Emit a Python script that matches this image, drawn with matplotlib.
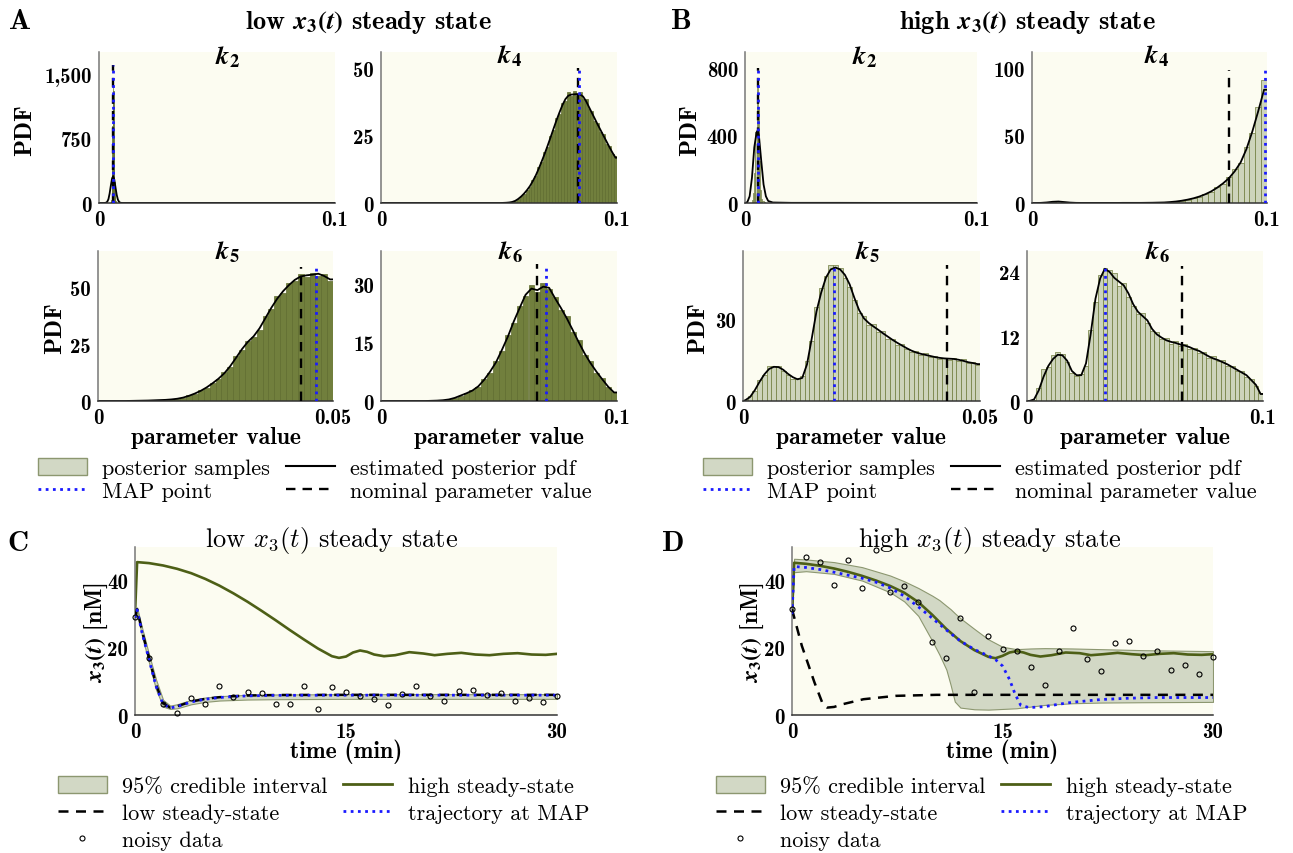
import matplotlib.pyplot as plt
from matplotlib.patches import Patch
from matplotlib.lines import Line2D

plt.rcParams['mathtext.fontset'] = 'cm'
plt.rcParams['font.family'] = 'cmb10'
plt.rcParams['axes.unicode_minus'] = False

# ---------------- histogram data (posterior samples + estimated pdf) ----------------
# panel A (low steady state)
A_k2_bin0, A_k2_step = 0.0051, 0.0002
A_k2_hist = [30, 120, 400, 900, 1450, 1300, 700, 250, 80, 20]
A_k2_pdf_x = [0, 0.002, 0.0025, 0.003, 0.0035, 0.004, 0.0045, 0.005, 0.0055, 0.006, 0.0065, 0.007, 0.0075, 0.008, 0.0085, 0.009, 0.0095, 0.01, 0.1]
A_k2_pdf_y = [0, 0, 1, 4, 15, 45, 110, 200, 280, 314, 270, 180, 95, 40, 13, 4, 1, 0, 0]

A_k4_bin0, A_k4_step = 0.05, 0.00125
A_k4_hist = [0, 0, 0.1, 0.2, 0.3, 0.9, 1.4, 2.6, 3.3, 5.0, 6.1, 8.6, 10.0, 13.3, 15.1, 18.9, 20.8, 25.0, 27.1, 31.4,
             33.0, 37.1, 38.0, 41.2, 39.6, 41.5, 39.8, 41.0, 38.7, 38.4, 34.9, 34.0, 30.5, 29.6, 26.2, 25.5, 22.0, 21.3, 18.0, 17.5]
A_k4_pdf = [0, 0.05, 0.1, 0.2, 0.4, 0.8, 1.5, 2.4, 3.5, 4.8, 6.3, 8.2, 10.3, 12.8, 15.5, 18.3, 21.3, 24.4, 27.6, 30.7,
            33.6, 36.3, 38.5, 39.8, 40.2, 40.3, 40.4, 40.2, 39.5, 37.8, 35.6, 33.4, 31.2, 29.0, 26.9, 24.8, 22.7, 20.6, 18.6, 16.8]

A_k5_bin0, A_k5_step = 0.0, 0.00125
A_k5_hist = [0, 0, 0, 0, 0, 0.05, 0.1, 0.2, 0.2, 0.3, 0.4, 0.6, 0.7, 1.1, 1.4, 2.5, 3.2, 4.8, 5.8, 8.1,
             9.5, 12.8, 14.9, 19.6, 22.3, 26.6, 28.1, 31.2, 37.4, 40.6, 46.1, 47.5, 52.0, 52.6, 55.7, 54.6, 56.4, 55.2, 56.0, 52.8]
A_k5_pdf = [0, 0, 0, 0, 0, 0.05, 0.1, 0.15, 0.2, 0.3, 0.4, 0.5, 0.7, 1.0, 1.5, 2.3, 3.3, 4.5, 6.0, 7.8,
            9.8, 12.2, 15.3, 19.0, 22.8, 26.0, 28.5, 32.0, 36.5, 41.0, 45.0, 48.3, 51.0, 53.3, 54.8, 55.3, 55.6, 56.0, 55.0, 53.5]

A_k6_bin0, A_k6_step = 0.0, 0.0025
A_k6_hist = [0, 0, 0, 0, 0, 0, 0, 0, 0.05, 0.1, 0.2, 0.4, 0.8, 1.3, 2.1, 2.9, 3.6, 5.8, 7.3, 10.4,
             12.8, 17.1, 20.0, 24.6, 27.0, 29.8, 28.2, 30.4, 28.8, 26.9, 23.5, 21.9, 17.8, 15.7, 11.9, 10.2, 7.3, 6.0, 3.5, 2.4]
A_k6_pdf = [0, 0, 0, 0, 0, 0, 0, 0, 0.05, 0.1, 0.2, 0.4, 0.8, 1.4, 2.0, 2.7, 3.8, 5.5, 7.6, 10.0,
            13.2, 16.6, 20.5, 24.0, 27.4, 29.0, 28.6, 29.5, 29.2, 26.5, 24.0, 21.3, 18.3, 15.2, 12.3, 9.8, 7.6, 5.6, 3.7, 2.2]

# panel B (high steady state)
B_k2_bin0, B_k2_step = 0.003, 0.0005
B_k2_hist = [20, 60, 180, 420, 720, 560, 250, 80, 25, 10, 5, 2]
B_k2_pdf_x = [0, 0.001, 0.002, 0.003, 0.004, 0.005, 0.0055, 0.006, 0.007, 0.008, 0.009, 0.010, 0.012, 0.02, 0.04, 0.06, 0.07, 0.1]
B_k2_pdf_y = [0, 5, 40, 150, 330, 420, 430, 400, 250, 110, 40, 12, 3, 1, 1, 0.5, 0, 0]

B_k4_bin0, B_k4_step = 0.0, 0.0025
B_k4_hist = [0, 0.1, 0.5, 1.0, 1.2, 0.6, 0.3, 0.1, 0.05, 0.05, 0.05, 0.05, 0.05, 0.05, 0.1, 0.1, 0.1, 0.1, 0.1, 0.2,
             0.2, 0.3, 0.5, 0.7, 1.0, 1.8, 2.4, 3.8, 4.5, 6.9, 8.2, 12.0, 13.9, 19.0, 25.0, 29.4, 41.5, 52.0, 71.5, 91.5]
B_k4_pdf = [0, 0.1, 0.4, 0.9, 1.1, 0.7, 0.3, 0.1, 0.05, 0.05, 0.05, 0.05, 0.05, 0.05, 0.05, 0.1, 0.1, 0.1, 0.1, 0.15,
            0.2, 0.3, 0.4, 0.7, 1.1, 1.7, 2.5, 3.5, 4.8, 6.5, 8.6, 11.3, 14.5, 18.3, 23.5, 30.0, 40.0, 53.0, 68.0, 84.0]

B_k5_bin0, B_k5_step = 0.0, 0.001
B_k5_hist = [0.2, 1.8, 3.6, 7.8, 9.5, 12.8, 13.0, 12.9, 11.0, 9.6, 8.2, 8.6, 9.2, 14.6, 22.0, 34.5, 41.8, 46.0, 50.3, 50.1,
             49.0, 45.2, 42.1, 37.4, 32.6, 31.4, 28.0, 28.4, 25.6, 25.8, 23.0, 22.9, 20.8, 21.0, 19.1, 18.2, 18.5, 17.1, 17.6, 16.2,
             16.7, 15.5, 16.0, 15.2, 15.8, 14.7, 15.3, 14.0, 14.4, 13.2]
B_k5_pdf = [0.3, 1.5, 4.0, 7.1, 9.8, 11.8, 12.6, 12.5, 11.5, 10.0, 8.8, 8.0, 8.5, 13.5, 23.0, 33.0, 40.0, 45.5, 48.5, 49.2,
            48.5, 46.5, 43.0, 38.0, 33.5, 30.5, 28.8, 27.5, 26.3, 25.0, 23.8, 22.6, 21.5, 20.5, 19.5, 18.6, 17.9, 17.4, 17.0, 16.6,
            16.2, 15.9, 15.7, 15.6, 15.5, 15.2, 14.8, 14.3, 14.0, 13.6]

B_k6_bin0, B_k6_step = 0.0, 0.002
B_k6_hist = [0.0, 0.2, 2.4, 5.9, 6.3, 8.5, 9.1, 8.7, 7.2, 5.2, 4.6, 5.1, 6.6, 13.2, 18.4, 23.5, 24.8, 24.4, 23.9, 21.4,
             22.0, 19.4, 17.6, 16.1, 16.3, 14.6, 13.0, 12.8, 11.5, 11.7, 10.6, 11.2, 10.2, 10.6, 9.7, 9.9, 8.9, 9.2, 8.0, 8.3,
             7.4, 7.6, 6.5, 6.6, 5.5, 5.6, 4.5, 4.1, 2.8, 1.5]
B_k6_pdf = [0.0, 0.3, 2.0, 4.5, 6.5, 7.8, 8.6, 8.5, 7.5, 5.6, 4.8, 4.8, 7.0, 12.5, 19.0, 22.8, 24.6, 24.0, 22.9, 22.2,
            21.5, 20.0, 18.0, 16.6, 15.8, 15.0, 13.4, 12.4, 11.8, 11.3, 11.0, 10.8, 10.5, 10.3, 10.0, 9.6, 9.3, 8.8, 8.3, 7.9,
            7.6, 7.2, 6.8, 6.3, 5.8, 5.3, 4.8, 3.9, 3.0, 1.3]

# MAP point / nominal value (x position, line height)
A_map = {'k2': (0.006, 1600), 'k4': (0.084, 50), 'k5': (0.0464, 59), 'k6': (0.0698, 35.3)}
A_nom = {'k2': (0.006, 1600), 'k4': (0.0835, 50), 'k5': (0.0432, 59), 'k6': (0.066, 35.3)}
B_map = {'k2': (0.0055, 800), 'k4': (0.099, 100), 'k5': (0.0192, 50), 'k6': (0.0332, 25.4)}
B_nom = {'k2': (0.0055, 800), 'k4': (0.0838, 99), 'k5': (0.043, 50), 'k6': (0.0658, 25.1)}

# ---------------- trajectories ----------------
data_t = list(range(31))
C_data = [29.1, 17.1, 3.2, 0.7, 5.2, 3.2, 8.5, 5.4, 6.9, 6.5, 3.4, 3.2, 8.7, 1.7, 8.4, 6.9, 5.7, 4.7, 2.9, 6.2,
          8.7, 5.7, 4.3, 7.1, 7.5, 5.9, 6.5, 4.3, 5.0, 3.9, 5.8]
D_data = [31.5, 47.1, 45.6, 38.7, 46.1, 37.7, 49.0, 36.7, 38.3, 33.7, 21.6, 17.1, 28.8, 6.7, 23.6, 19.6, 18.9, 14.4, 8.9, 18.9,
          25.8, 16.8, 13.1, 21.4, 22.1, 17.6, 19.1, 13.4, 14.9, 12.1, 17.4]

high_t = [0, 0.15, 1, 2, 3, 4, 5, 6, 7, 8, 9, 10, 11, 12, 13, 14, 14.5, 15, 15.5, 16, 16.5, 17, 17.7, 18.5, 19.5,
          20.5, 21.3, 22.2, 23.2, 24.2, 25.2, 26.2, 27.2, 28.2, 29.2, 30]
C_high = [30, 45.5, 45.2, 44.5, 43.5, 42.2, 40.5, 38.5, 36.2, 33.7, 31.0, 28.2, 25.3, 22.5, 19.8, 17.5, 17.0, 17.4, 18.6, 19.2,
          18.8, 18.0, 17.5, 17.8, 18.7, 18.3, 17.8, 18.2, 18.5, 18.0, 17.8, 18.2, 18.4, 18.0, 17.9, 18.2]
D_high = [30, 45.3, 45.0, 44.4, 43.6, 42.6, 41.4, 40.0, 38.4, 36.4, 33.6, 29.8, 25.6, 22.0, 19.3, 17.3, 16.9, 17.6, 18.6, 19.0,
          18.6, 17.9, 17.4, 17.8, 18.6, 18.4, 17.8, 18.1, 18.5, 18.1, 17.8, 18.2, 18.4, 18.0, 17.9, 18.1]

C_low_t = [0, 0.15, 0.5, 1, 1.5, 2, 2.5, 3, 4, 5, 6, 7, 8, 10, 15, 20, 30]
C_low = [29, 31.5, 25, 17.0, 9.0, 3.5, 2.2, 2.6, 4.0, 4.8, 5.3, 5.6, 5.8, 5.95, 6.0, 6.0, 6.0]
C_map = [29, 31.3, 24.5, 16.5, 8.5, 3.2, 2.1, 2.5, 3.9, 4.7, 5.2, 5.5, 5.7, 5.85, 5.9, 5.9, 5.9]

C_band_t = [0, 0.15, 0.5, 1, 1.5, 2, 2.5, 3, 4, 5, 6, 8, 10, 15, 20, 30]
C_band_lo = [28.5, 30.5, 23.5, 15.5, 7.5, 2.5, 1.8, 2.0, 3.2, 3.9, 4.3, 4.6, 4.7, 4.8, 4.8, 4.8]
C_band_hi = [29.5, 32.0, 26.0, 18.0, 10.5, 4.5, 2.8, 3.2, 4.5, 5.2, 5.6, 6.0, 6.1, 6.2, 6.2, 6.2]

D_low_t = [0, 0.7, 1.6, 2.2, 2.5, 3, 3.6, 5.1, 7.4, 10.3, 15, 30]
D_low = [31.5, 20.6, 9.7, 3.2, 2.2, 2.4, 3.2, 4.7, 5.7, 6.0, 6.0, 6.0]

D_map_t = [0, 0.15, 1, 2, 3, 4, 5, 6, 7, 8, 9, 10, 11, 12, 13, 14, 14.5, 15, 15.5, 15.9, 16.3, 16.9, 18, 19, 20, 22, 24, 26, 30]
D_map = [30, 44.2, 43.9, 43.3, 42.5, 41.6, 40.7, 39.5, 37.8, 35.4, 32.2, 28.8, 25.3, 22.0, 19.5, 17.6, 16.5, 14.6, 10.6, 6.2,
         2.9, 2.2, 2.5, 3.2, 3.8, 4.6, 5.0, 5.2, 5.2]

D_band_t = [0, 0.15, 1, 3, 5, 7, 8, 9, 10, 10.5, 11, 11.3, 11.6, 12, 13, 14, 15, 16, 17, 18, 20, 22, 25, 30]
D_band_hi = [30, 46.5, 46.3, 45.5, 44.0, 41.5, 39.8, 37.8, 35.5, 34.2, 32.5, 31.5, 30.3, 28.8, 25.6, 22.5, 20.3, 19.6, 19.8,
             19.9, 19.8, 19.6, 19.3, 19.0]
D_band_lo = [30, 42.5, 42.8, 42.0, 40.0, 36.5, 33.8, 29.5, 22.0, 18.0, 13.5, 9.0, 4.0, 2.2, 1.7, 1.6, 1.8, 2.0, 2.5, 3.0,
             3.5, 3.7, 3.8, 3.9]

# ---------------- styling ----------------
W, H = 1293, 854
BG = '#fcfcf1'
OLIVE = '#4d5f16'
BLUE = '#1a1aff'
CI_FACE, CI_EDGE = '#d2d8c5', '#8c9770'
DOT = (0, (1, 1.6))
DASH = (0, (4, 3))
REG = {'family': 'cmr10', 'size': 16}
TICK = 15
LAB = 17

fig = plt.figure(figsize=(W / 100, H / 100), dpi=100)


def add_ax(l, t, r, b):
    ax = fig.add_axes([l / W, 1 - b / H, (r - l) / W, (b - t) / H])
    ax.set_facecolor(BG)
    for s in ('top', 'right'):
        ax.spines[s].set_visible(False)
    ax.spines['left'].set_color('#777777')
    ax.spines['bottom'].set_color('#333333')
    ax.spines['left'].set_linewidth(1.1)
    ax.spines['bottom'].set_linewidth(1.1)
    ax.tick_params(length=0, labelsize=TICK, pad=5)
    return ax


def ftext(x, y, s, **kw):
    fig.text(x / W, 1 - y / H, s, ha=kw.pop('ha', 'center'), va=kw.pop('va', 'center'), **kw)


def hist_panel(box, bin0, step, hist, pdf_x, pdf_y, mp, nom, xmax, ymax, yt, ytl, face, edge, title, tpos):
    ax = add_ax(*box)
    centers = [bin0 + step * (i + 0.5) for i in range(len(hist))]
    ax.bar(centers, hist, width=step, color=face, edgecolor=edge, linewidth=0.5, zorder=1)
    if pdf_x is None:
        pdf_x = [0] + centers + [xmax]
        pdf_y = [0] + list(pdf_y) + [pdf_y[-1]]
    ax.plot(pdf_x, pdf_y, color='black', lw=1.3, zorder=2)
    ax.vlines(nom[0], 0, nom[1], colors='black', linestyles=DASH, lw=1.7, zorder=3)
    ax.vlines(mp[0], 0, mp[1], colors=BLUE, linestyles=DOT, lw=2.0, zorder=4)
    ax.set_xlim(0, xmax)
    ax.set_ylim(0, ymax)
    ax.set_xticks([0, xmax])
    ax.set_xticklabels(['0', '0.05' if xmax == 0.05 else '0.1'])
    ax.set_yticks(yt)
    ax.set_yticklabels(ytl)
    ftext(tpos[0], tpos[1], title, fontsize=19, math_fontfamily='stix')
    return ax


A_face, A_edge = '#717f3d', '#5f6c2f'
B_face, B_edge = '#cdd4bb', '#6d7b3b'

# panel A
hist_panel((99, 53, 335, 204), A_k2_bin0, A_k2_step, A_k2_hist, A_k2_pdf_x, A_k2_pdf_y, A_map['k2'], A_nom['k2'],
           0.1, 1756, [0, 750, 1500], ['0', '750', '1,500'], A_face, A_edge, r'$\mathbfit{k}_\mathbf{2}$', (228, 57))
hist_panel((381, 53, 617, 204), A_k4_bin0, A_k4_step, A_k4_hist, None, A_k4_pdf, A_map['k4'], A_nom['k4'],
           0.1, 56, [0, 25, 50], ['0', '25', '50'], A_face, A_edge, r'$\mathbfit{k}_\mathbf{4}$', (510, 56))
hist_panel((98, 252, 333, 402), A_k5_bin0, A_k5_step, A_k5_hist, None, A_k5_pdf, A_map['k5'], A_nom['k5'],
           0.05, 66, [0, 25, 50], ['0', '25', '50'], A_face, A_edge, r'$\mathbfit{k}_\mathbf{5}$', (227, 252))
hist_panel((381, 252, 617, 402), A_k6_bin0, A_k6_step, A_k6_hist, None, A_k6_pdf, A_map['k6'], A_nom['k6'],
           0.1, 38.7, [0, 15, 30], ['0', '15', '30'], A_face, A_edge, r'$\mathbfit{k}_\mathbf{6}$', (510, 252))

# panel B
hist_panel((745, 53, 977, 204), B_k2_bin0, B_k2_step, B_k2_hist, B_k2_pdf_x, B_k2_pdf_y, B_map['k2'], B_nom['k2'],
           0.1, 896, [0, 400, 800], ['0', '400', '800'], B_face, B_edge, r'$\mathbfit{k}_\mathbf{2}$', (865, 57))
hist_panel((1032, 53, 1267, 204), B_k4_bin0, B_k4_step, B_k4_hist, None, B_k4_pdf, B_map['k4'], B_nom['k4'],
           0.1, 112, [0, 50, 100], ['0', '50', '100'], B_face, B_edge, r'$\mathbfit{k}_\mathbf{4}$', (1157, 56))
hist_panel((743, 252, 980, 402), B_k5_bin0, B_k5_step, B_k5_hist, None, B_k5_pdf, B_map['k5'], B_nom['k5'],
           0.05, 55.3, [0, 30], ['0', '30'], B_face, B_edge, r'$\mathbfit{k}_\mathbf{5}$', (867, 252))
hist_panel((1027, 252, 1263, 402), B_k6_bin0, B_k6_step, B_k6_hist, None, B_k6_pdf, B_map['k6'], B_nom['k6'],
           0.1, 27.9, [0, 12, 24], ['0', '12', '24'], B_face, B_edge, r'$\mathbfit{k}_\mathbf{6}$', (1157, 252))

# labels for A/B
BOLD_X3 = r'$\mathbfit{x}_\mathbf{3}\mathbf{(}\mathbfit{t}\mathbf{)}$'
ftext(20, 22, 'A', fontsize=21)
ftext(681, 22, 'B', fontsize=21)
ftext(368, 22, 'low ' + BOLD_X3 + ' steady state', fontsize=19, math_fontfamily='stix')
ftext(1027, 22, 'high ' + BOLD_X3 + ' steady state', fontsize=19, math_fontfamily='stix')
for x, y in [(25, 130), (55, 328), (690, 130), (698, 328)]:
    ftext(x, y, 'PDF', fontsize=LAB + 1, rotation=90)
for x in [216, 499, 861, 1145]:
    ftext(x, 438, 'parameter value', fontsize=LAB)

hist_handles = [Patch(facecolor=CI_FACE, edgecolor=CI_EDGE, label='posterior samples'),
                Line2D([], [], color=BLUE, ls=DOT, lw=2, label='MAP point'),
                Line2D([], [], color='black', lw=1.5, label='estimated posterior pdf'),
                Line2D([], [], color='black', ls=DASH, lw=1.7, label='nominal parameter value')]
for x0 in (38, 703):
    fig.legend(handles=hist_handles, loc='upper left', bbox_to_anchor=(x0 / W, 1 - 459 / H), ncol=2,
               frameon=False, prop=REG, handlelength=2.2, handleheight=0.8, handletextpad=0.7,
               columnspacing=0.7, labelspacing=0.1, borderpad=0, borderaxespad=0)


# ---------------- panels C and D ----------------
def traj_panel(box, band_t, band_lo, band_hi, high, low_t, low, map_t, mp, data, title, tpos, ylab_x):
    ax = add_ax(*box)
    ax.fill_between(band_t, band_lo, band_hi, facecolor=CI_FACE, edgecolor=CI_EDGE, lw=0.8, zorder=1)
    ax.plot(high_t, high, color=OLIVE, lw=1.9, zorder=2)
    ax.plot(low_t, low, color='black', ls=DASH, lw=1.8, zorder=3)
    ax.plot(map_t, mp, color=BLUE, ls=DOT, lw=2.0, zorder=4)
    ax.plot(data_t, data, ls='none', marker='o', ms=3.6, mfc='none', mec='black', mew=0.8, zorder=5, clip_on=False)
    ax.set_xlim(0, 30)
    ax.set_ylim(0, 50)
    ax.set_xticks([0, 15, 30])
    ax.set_yticks([0, 20, 40])
    ftext(tpos[0], tpos[1], title, family='cmr10', fontsize=19)
    ftext((box[0] + box[2]) / 2, 752, 'time (min)', fontsize=LAB)
    ftext(ylab_x, 632, BOLD_X3 + ' [nM]', fontsize=LAB, rotation=90, math_fontfamily='stix')
    return ax


traj_panel((135, 548, 557, 716), C_band_t, C_band_lo, C_band_hi, C_high, C_low_t, C_low, C_low_t, C_map, C_data,
           r'low $x_3(t)$ steady state', (332, 541), 96)
traj_panel((792, 548, 1213, 716), D_band_t, D_band_lo, D_band_hi, D_high, D_low_t, D_low, D_map_t, D_map, D_data,
           r'high $x_3(t)$ steady state', (990, 541), 752)
ftext(18, 544, 'C', fontsize=21)
ftext(673, 544, 'D', fontsize=21)

traj_handles = [Patch(facecolor=CI_FACE, edgecolor=CI_EDGE, label='95% credible interval'),
                Line2D([], [], color='black', ls=DASH, lw=1.8, label='low steady-state'),
                Line2D([], [], ls='none', marker='o', ms=3.6, mfc='none', mec='black', mew=0.8, label='noisy data'),
                Line2D([], [], color=OLIVE, lw=2, label='high steady-state'),
                Line2D([], [], color=BLUE, ls=DOT, lw=2, label='trajectory at MAP')]
for x0 in (58, 716):
    fig.legend(handles=traj_handles, loc='upper left', bbox_to_anchor=(x0 / W, 1 - 777 / H), ncol=2,
               frameon=False, prop=REG, handlelength=2.2, handleheight=0.8, handletextpad=0.7,
               columnspacing=0.7, labelspacing=0.3, borderpad=0, borderaxespad=0)

fig.savefig('out.png', dpi=100, facecolor='white')
